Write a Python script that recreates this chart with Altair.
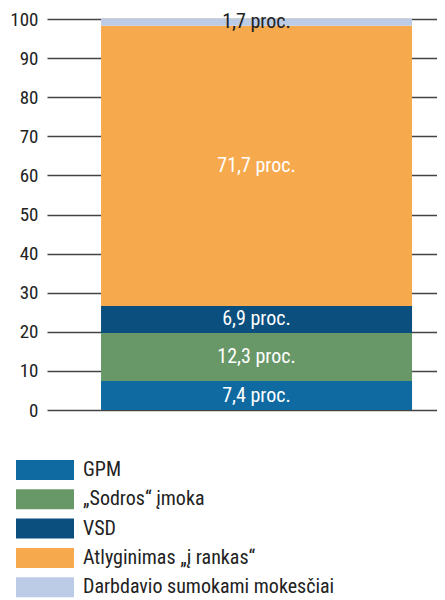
import altair as alt
import pandas as pd

categories = ["GPM", "„Sodros“ įmoka", "VSD", "Atlyginimas „į rankas“", "Darbdavio sumokami mokesčiai"]
values = [7.4, 12.3, 6.9, 71.7, 1.7]
labels = ["7,4 proc.", "12,3 proc.", "6,9 proc.", "71,7 proc.", "1,7 proc."]
colors = ["#0e6aa0", "#689868", "#0a4f7e", "#f7a94e", "#bccbe6"]
label_colors = ["white", "white", "white", "white", "#222222"]
y_ticks = list(range(0, 101, 10))

df = pd.DataFrame({
    "bar": ["all"] * len(categories),
    "cat": categories,
    "value": values,
    "label": labels,
    "order": list(range(len(categories))),
    "lc": label_colors,
})

FONT = "'Roboto Condensed', 'Liberation Sans Narrow', Roboto"

xscale = alt.Scale(paddingInner=0, paddingOuter=0.127, align=0.684)
yscale = alt.Scale(domain=[0, 100], nice=False)
yaxis = alt.Axis(values=y_ticks, grid=True, gridColor="#444444", gridWidth=1.3,
                 ticks=False, domain=False, title=None, labelPadding=9, labelOverlap=False,
                 labelFontSize=19, labelColor="#222222", labelFont=FONT)

bars = alt.Chart(df).mark_bar().encode(
    x=alt.X("bar:N", axis=None, scale=xscale),
    y=alt.Y("value:Q", stack="zero", scale=yscale, axis=yaxis),
    color=alt.Color("cat:N", sort=categories,
                    scale=alt.Scale(domain=categories, range=colors),
                    legend=alt.Legend(title=None, orient="none", legendX=-12, legendY=441,
                                      symbolType="M-2.9,-1H2.9V1H-2.9Z", symbolSize=400,
                                      symbolStrokeWidth=0,
                                      labelFontSize=20, labelColor="#222222", labelFont=FONT,
                                      labelOffset=28, rowPadding=9.3, labelLimit=400)),
    order=alt.Order("order:Q"),
)

text = alt.Chart(df).transform_stack(
    stack="value", groupby=["bar"], as_=["y0", "y1"], sort=[alt.SortField("order")]
).transform_calculate(
    mid="(datum.y0 + datum.y1) / 2"
).mark_text(fontSize=20, font=FONT).encode(
    x=alt.X("bar:N", axis=None, scale=xscale),
    y=alt.Y("mid:Q", scale=yscale, axis=yaxis),
    text="label:N",
    color=alt.Color("lc:N", scale=None, legend=None),
)

chart = alt.layer(bars, text).resolve_scale(color="independent").properties(
    width=390, height=391,
    autosize=alt.AutoSizeParams(type="none"),
    padding={"left": 39, "top": 11, "right": 0, "bottom": 190},
).configure_view(stroke=None)

chart.save("out.html", embed_options={"renderer": "svg", "actions": False})
